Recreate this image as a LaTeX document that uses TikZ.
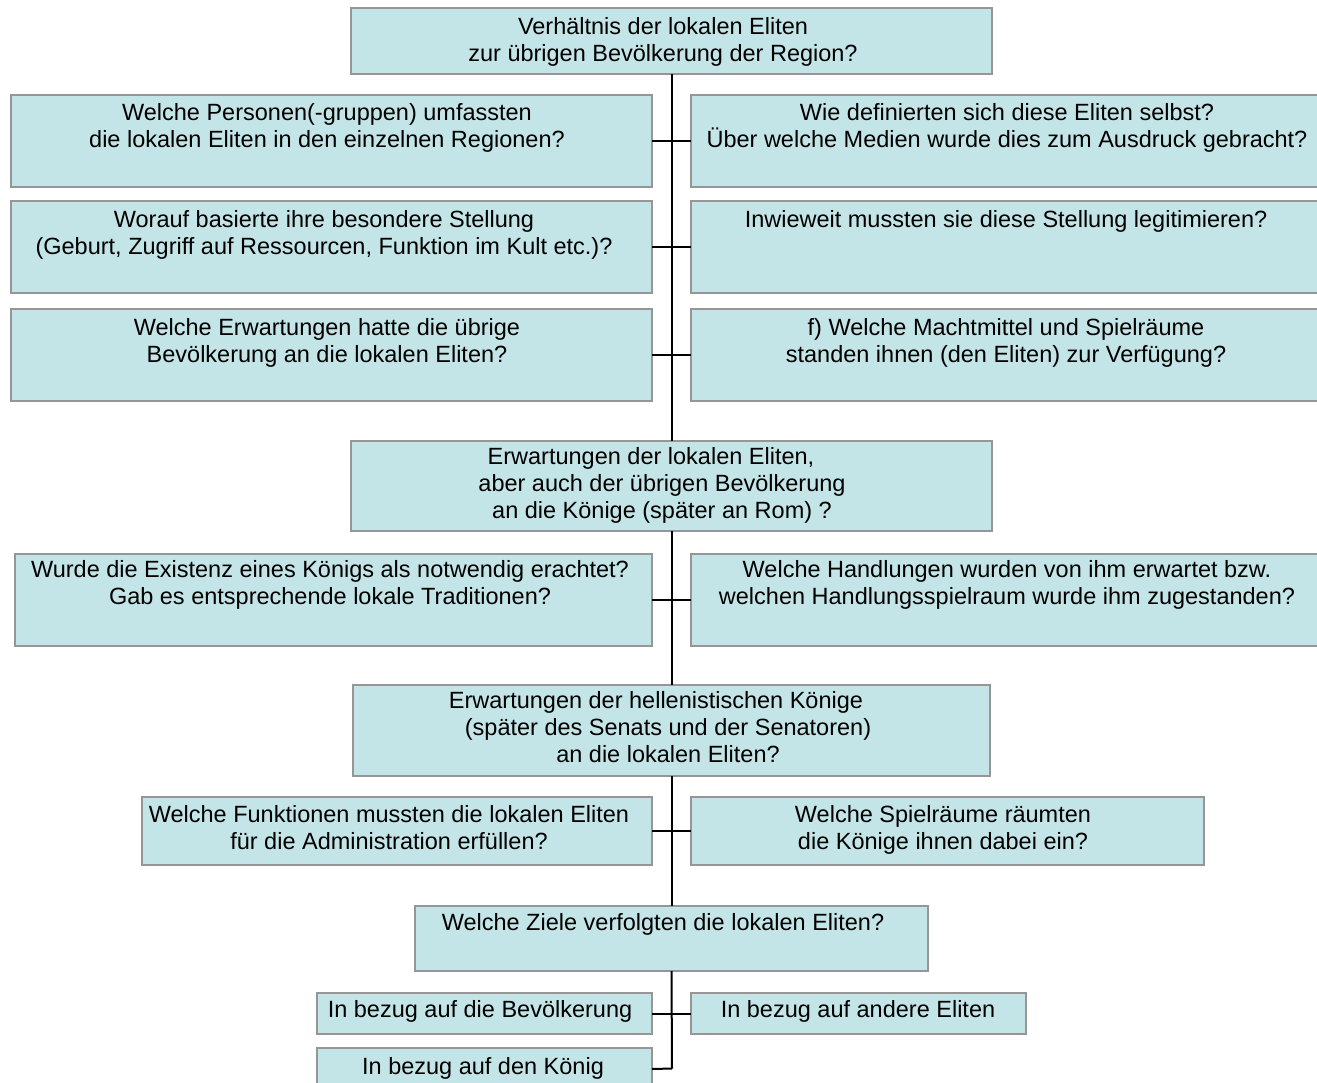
\documentclass[tikz,border=0pt]{standalone}
\usepackage{fontspec}
\setmainfont{Liberation Sans}
\usetikzlibrary{calc}
\definecolor{boxfill}{RGB}{196,229,231}
\definecolor{boxline}{RGB}{150,150,150}
\begin{document}
\begin{tikzpicture}[x=1pt,y=-1pt,
  qbox/.style={draw=boxline,line width=2pt,fill=boxfill,anchor=north west,inner sep=0pt,outer sep=0pt},
  qtext/.style={anchor=base,align=center,inner sep=0pt,font=\fontsize{23.5}{27}\selectfont},
  conn/.style={draw=black,line width=2pt}]
\useasboundingbox (0,0) rectangle (1317,1082);
\clip (0,0) rectangle (1317,1082);
% boxes
\node[qbox,minimum width=641pt,minimum height=66pt] (top) at (351,8) {};
\node[qbox,minimum width=641pt,minimum height=92pt] (l1) at (11,95) {};
\node[qbox,minimum width=640pt,minimum height=92pt] (r1) at (691,95) {};
\node[qbox,minimum width=641pt,minimum height=92pt] (l2) at (11,201) {};
\node[qbox,minimum width=640pt,minimum height=92pt] (r2) at (691,201) {};
\node[qbox,minimum width=641pt,minimum height=92pt] (l3) at (11,309) {};
\node[qbox,minimum width=640pt,minimum height=92pt] (r3) at (691,309) {};
\node[qbox,minimum width=641pt,minimum height=90pt] (c2) at (351,441) {};
\node[qbox,minimum width=637pt,minimum height=92pt] (l4) at (15,554) {};
\node[qbox,minimum width=640pt,minimum height=92pt] (r4) at (691,554) {};
\node[qbox,minimum width=637pt,minimum height=91pt] (c3) at (353,685) {};
\node[qbox,minimum width=510pt,minimum height=68pt] (l5) at (142,797) {};
\node[qbox,minimum width=513pt,minimum height=68pt] (r5) at (691,797) {};
\node[qbox,minimum width=513pt,minimum height=65pt] (c4) at (415,906) {};
\node[qbox,minimum width=335pt,minimum height=41pt] (l6) at (317,993) {};
\node[qbox,minimum width=335pt,minimum height=41pt] (r6) at (691,993) {};
\node[qbox,minimum width=335pt,minimum height=42pt] (l7) at (317,1048) {};
\coordinate (spineend) at (672,1068.5);
% connectors
\draw[conn] (top.south) -- (c2.north);
\draw[conn] (c2.south) -- (c3.north);
\draw[conn] (c3.south) -- (c4.north);
\draw[conn] (c4.south) -- (spineend);
\draw[conn] (l1.east) -- (r1.west);
\draw[conn] (l2.east) -- (r2.west);
\draw[conn] (l3.east) -- (r3.west);
\draw[conn] (l4.east) -- (r4.west);
\draw[conn] (l5.east) -- (r5.west);
\draw[conn] (l6.east) -- (r6.west);
\draw[conn] (l7.east) -- (spineend);
% texts (base anchor = baseline of the last line)
\node[qtext] (ttop) at (663,61) {Verhältnis der lokalen Eliten\\zur übrigen Bevölkerung der Region?};
\node[qtext] (tl1) at (327,147) {Welche Personen(-gruppen) umfassten\\die lokalen Eliten in den einzelnen Regionen?};
\node[qtext] (tr1) at (1007,147) {Wie definierten sich diese Eliten selbst?\\Über welche Medien wurde dies zum Ausdruck gebracht?};
\node[qtext] (tl2) at (324,254) {Worauf basierte ihre besondere Stellung\\(Geburt, Zugriff auf Ressourcen, Funktion im Kult etc.)?};
\node[qtext] (tr2) at (1006,227) {Inwieweit mussten sie diese Stellung legitimieren?};
\node[qtext] (tl3) at (327,362) {Welche Erwartungen hatte die übrige\\Bevölkerung an die lokalen Eliten?};
\node[qtext] (tr3) at (1006,362) {f) Welche Machtmittel und Spielräume\\standen ihnen (den Eliten) zur Verfügung?};
\node[qtext] (tc2) at (662,518) {Erwartungen der lokalen Eliten,\hspace*{22pt}\\aber auch der übrigen Bevölkerung\\an die Könige (später an Rom) ?};
\node[qtext] (tl4) at (330,604) {Wurde die Existenz eines Königs als notwendig erachtet?\\Gab es entsprechende lokale Traditionen?};
\node[qtext] (tr4) at (1007,604) {Welche Handlungen wurden von ihm erwartet bzw.\\welchen Handlungsspielraum wurde ihm zugestanden?};
\node[qtext] (tc3) at (668,762) {Erwartungen der hellenistischen Könige\hspace*{24pt}\\(später des Senats und der Senatoren)\\an die lokalen Eliten?};
\node[qtext] (tl5) at (389,849) {Welche Funktionen mussten die lokalen Eliten\\für die Administration erfüllen?};
\node[qtext] (tr5) at (943,849) {Welche Spielräume räumten\\die Könige ihnen dabei ein?};
\node[qtext] (tc4) at (663,930) {Welche Ziele verfolgten die lokalen Eliten?};
\node[qtext] (tl6) at (480,1017) {In bezug auf die Bevölkerung};
\node[qtext] (tr6) at (858,1017) {In bezug auf andere Eliten};
\node[qtext] (tl7) at (483,1074) {In bezug auf den König};
\end{tikzpicture}
\end{document}
